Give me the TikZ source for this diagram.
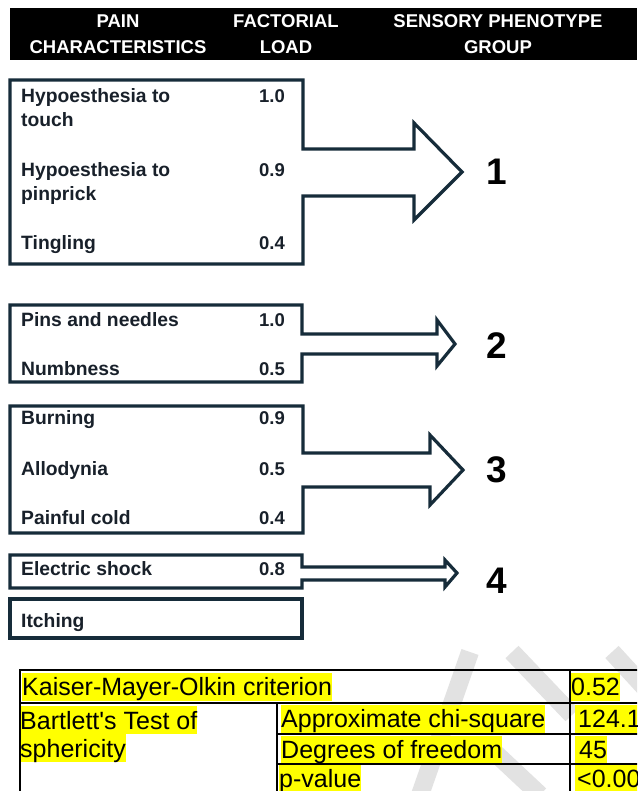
\documentclass[tikz,border=0pt]{standalone}
\usepackage{fontspec}
\setmainfont{Liberation Sans}
\newfontfamily\tabfont{Liberation Sans}
\definecolor{boxc}{RGB}{22,44,58}
\definecolor{txtc}{RGB}{24,32,42}
\definecolor{hlyel}{RGB}{255,255,0}
\definecolor{wmark}{RGB}{226,226,226}
\begin{document}
\begin{tikzpicture}[x=1pt,y=-1pt,
  boxline/.style={draw=boxc, line width=3.2pt, line join=miter},
  lbl/.style={anchor=base west, inner sep=0, text=txtc, font=\bfseries\fontsize{19.3}{22}\selectfont},
  val/.style={anchor=base east, inner sep=0, text=txtc, font=\bfseries\fontsize{18.5}{22}\selectfont},
  hdr/.style={text=white, align=center, inner sep=0, font=\bfseries\fontsize{18.5}{26}\selectfont},
  grp/.style={inner sep=0, text=black, font=\bfseries\fontsize{37}{37}\selectfont},
  cell/.style={anchor=base west, fill=hlyel, inner sep=0, text height=22.6pt, text depth=5.3pt, font=\tabfont\fontsize{25}{28}\selectfont},
  tline/.style={line width=2pt, draw=black},
  wm/.style={draw=wmark, line width=18pt, line cap=butt}
]
\useasboundingbox (0,0) rectangle (637,791);
\clip (0,0) rectangle (637,791);
\fill[white] (0,0) rectangle (637,791);

% header
\fill[black] (10,8) rectangle (637,60);
\node[hdr] (h1) at (118,34) {PAIN\\CHARACTERISTICS};
\node[hdr] (h2) at (286,34) {FACTORIAL\\LOAD};
\node[hdr] (h3) at (498,34) {SENSORY PHENOTYPE\\GROUP};

% group 1
\draw[boxline] (10,80) -- (303,80) -- (303,149) -- (414,149) -- (414,123) -- (462,172)
  -- (414,220) -- (414,196) -- (303,196) -- (303,264) -- (10,264) -- cycle;
\node[lbl] (t1a) at (21,103) {Hypoesthesia to};
\node[lbl] (t1b) at (21,127) {touch};
\node[val] (v1a) at (285,103) {1.0};
\node[lbl] (t2a) at (21,177) {Hypoesthesia to};
\node[lbl] (t2b) at (21,201) {pinprick};
\node[val] (v2a) at (285,177) {0.9};
\node[lbl] (t3) at (21,250) {Tingling};
\node[val] (v3) at (285,250) {0.4};
\node[grp] (g1) at (497,172) {1};

% group 2
\draw[boxline] (10,305) -- (302,305) -- (302,334) -- (437,334) -- (437,320) -- (455,344)
  -- (437,366) -- (437,354) -- (302,354) -- (302,382) -- (10,382) -- cycle;
\node[lbl] (t4) at (21,326) {Pins and needles};
\node[val] (v4) at (285,326) {1.0};
\node[lbl] (t5) at (21,375) {Numbness};
\node[val] (v5) at (285,375) {0.5};
\node[grp] (g2) at (497,346) {2};

% group 3
\draw[boxline] (10,406) -- (303,406) -- (303,453) -- (430,453) -- (430,435) -- (463,470)
  -- (430,505) -- (430,487) -- (303,487) -- (303,533) -- (10,533) -- cycle;
\node[lbl] (t6) at (21,424) {Burning};
\node[val] (v6) at (285,424) {0.9};
\node[lbl] (t7) at (21,475) {Allodynia};
\node[val] (v7) at (285,475) {0.5};
\node[lbl] (t8) at (21,524) {Painful cold};
\node[val] (v8) at (285,524) {0.4};
\node[grp] (g3) at (497,470) {3};

% group 4
\draw[boxline] (10,555) -- (302,555) -- (302,567) -- (445,567) -- (445,560) -- (457,573)
  -- (445,587) -- (445,580) -- (302,580) -- (302,588) -- (10,588) -- cycle;
\node[lbl] (t9) at (21,575) {Electric shock};
\node[val] (v9) at (285,575) {0.8};
\node[grp] (g4) at (497,581) {4};

% itching
\draw[boxline] (10,599) rectangle (302,638);
\node[lbl] (t10) at (21,627) {Itching};

% watermark
\draw[wm] (470,652) -- (420,795);
\draw[wm] (512,652) -- (572,715);
\draw[wm] (612,652) -- (645,688);
\draw[wm] (492,750) -- (540,795);

% table highlights
\fill[hlyel] (575,704.5) rectangle (637,732.5);
\node[cell] (kmo) at (22,695.6) {Kaiser-Mayer-Olkin criterion};
\node[cell] (kmov) at (571,695.6) {0.52};
\node[cell] (bt1) at (20,729) {Bartlett's Test of\ };
\node[cell] (bt2) at (20,757) {sphericity};
\node[cell] (ac) at (281,727.6) {Approximate chi-square};
\node[cell] (acv) at (575,727.6) {\hspace{3pt}124.1};
\node[cell] (df) at (281,758.6) {Degrees of freedom};
\node[cell] (dfv) at (575,758.6) {\hspace{4pt}45};
\node[cell] (pv) at (279,787.5) {p-value};
\node[cell] (pvv) at (575,787.5) {\hspace{2pt}<0.00};

% table lines
\draw[tline] (20,795) -- (20,670) -- (645,670);
\draw[tline] (20,703) -- (645,703);
\draw[tline] (277,703) -- (277,795);
\draw[tline] (570,670) -- (570,795);
\draw[tline] (277,734) -- (645,734);
\draw[tline] (277,764) -- (645,764);
\end{tikzpicture}
\end{document}
